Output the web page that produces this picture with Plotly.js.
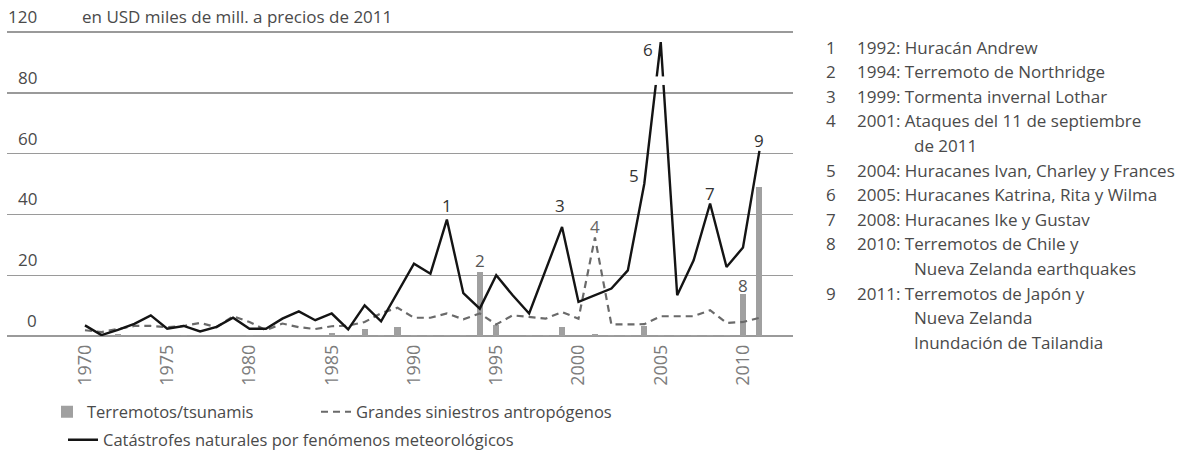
<!DOCTYPE html>
<html>
<head>
<meta charset="utf-8">
<script src="https://cdn.plot.ly/plotly-3.0.1.min.js"></script>
<style>html,body{margin:0;padding:0;background:#fff;}#chart{width:1203px;height:457px;}</style>
</head>
<body>
<div id="chart"></div>
<script>
// ---- data ----
const years = [1970,1971,1972,1973,1974,1975,1976,1977,1978,1979,
               1980,1981,1982,1983,1984,1985,1986,1987,1988,1989,
               1990,1991,1992,1993,1994,1995,1996,1997,1998,1999,
               2000,2001,2002,2003,2004,2005,2006,2007,2008,2009,2010,2011];
const quakes = [0,0,0.5,0,0,0,0.3,0,0,0,
                0.4,0,0,0,0,1.0,0.3,2.2,0.3,3.0,
                0.3,0.3,0.3,0.3,21.0,3.5,0,0.3,0.3,2.8,
                0,0.8,0.3,0.4,3.2,0.3,0.2,0.3,0.4,0.4,13.7,49.0];
const manmade = [1.9,1.3,2.3,3.3,3.3,2.9,3.3,4.3,2.9,6.5,
                 4.6,1.9,4.1,2.9,2.3,3.2,3.4,4.6,7.5,9.3,
                 6.0,6.0,7.4,5.5,7.4,3.8,6.8,6.3,5.7,7.9,
                 5.7,32.4,3.8,3.8,3.9,6.5,6.4,6.5,8.5,4.3,4.6,6.0];
const weather = [3.5,0.3,2.0,4.0,6.8,2.4,3.3,1.5,3.0,6.0,
                 2.4,2.4,5.7,8.1,5.2,7.4,2.2,10.1,4.8,14.5,
                 23.8,20.5,38.3,14.1,9.0,20.0,13.4,7.4,21.6,35.9,
                 11.2,13.4,15.6,21.6,50.1,96.7,13.4,24.9,43.6,22.7,29.1,60.9];
const seriesNames = ['Terremotos/tsunamis','Grandes siniestros antropógenos','Catástrofes naturales por fenómenos meteorológicos'];
const yTickVals = [0,20,40,60,80,100];
const yTickText = ['0','20','40','60','80','120'];
const xTickVals = [1970,1975,1980,1985,1990,1995,2000,2005,2010];
const yTitle = 'en USD miles de mill. a precios de 2011';
const eventNums = ['1','2','3','4','5','6','7','8','9'];
const eventYears = [1992,1994,1999,2001,2004,2005,2008,2010,2011];
const eventSeries = ['weather','quakes','weather','manmade','weather','weather','weather','quakes','weather'];
const listNums = ['1','2','3','4','','5','6','7','8','','9','',''];
const listText = ['1992: Huracán Andrew','1994: Terremoto de Northridge','1999: Tormenta invernal Lothar',
  '2001: Ataques del 11 de septiembre','de 2011','2004: Huracanes Ivan, Charley y Frances',
  '2005: Huracanes Katrina, Rita y Wilma','2008: Huracanes Ike y Gustav','2010: Terremotos de Chile y',
  'Nueva Zelanda earthquakes','2011: Terremotos de Japón y','Nueva Zelanda','Inundación de Tailandia'];
const listIsCont = [false,false,false,false,true,false,false,false,false,true,false,true,true];
const axisBreak = [82.6, 85.4];

// ---- styles / geometry ----
const W = 1203, H = 457;
const L = 7, R = 793, B = 336;
const PXU = 3.04;                 // pixels per unit on the value axis
const YMAX = 102;
const T = B - YMAX * PXU;
const PW = R - L, PH = B - T;
const FONT = '"Open Sans", "Liberation Sans", Arial, sans-serif';
const TXT = '#4a4a4a';
const px2x = px => (px - L) / PW;
const py2y = py => (B - py) / PH;
const seriesMap = {weather, manmade, quakes};
const eventShift = [[0,14],[0,12],[-2,21],[0,11],[-10,8],[-13,-7],[0,10],[0,9],[0,10]];
const eventColor = ['#333','#555','#333','#666','#333','#333','#333','#555','#333'];

const traces = [
  {type:'bar', x: years, y: quakes, name: seriesNames[0], width: 0.37,
   marker:{color:'#a0a0a0'}, legend:'legend', legendwidth: 224},
  {type:'scatter', mode:'lines', x: years, y: manmade, name: seriesNames[1],
   line:{color:'#6a6a6a', width:2.2, dash:'7px,5px'}, legend:'legend', legendwidth: 300},
  {type:'scatter', mode:'lines', x: years, y: weather, name: seriesNames[2],
   line:{color:'#141414', width:2.4}, legend:'legend2'}
];

const annotations = [];
yTickVals.forEach((v,i) => annotations.push({
  xref:'paper', yref:'y', x: px2x(39), y: v, xanchor:'right', yanchor:'bottom', yshift: 2,
  text: yTickText[i], showarrow:false, font:{family:FONT, size:17, color:TXT}
}));
annotations.push({xref:'paper', yref:'y', x: px2x(80), y: yTickVals[yTickVals.length-1],
  xanchor:'left', yanchor:'bottom', yshift:2, text: yTitle, showarrow:false,
  font:{family:FONT, size:17, color:TXT}});
eventNums.forEach((n,i) => {
  const yr = eventYears[i];
  const v = seriesMap[eventSeries[i]][years.indexOf(yr)];
  annotations.push({xref:'x', yref:'y', x: yr, y: v, text: n, showarrow:false,
    xanchor:'center', yanchor:'middle', xshift: eventShift[i][0], yshift: eventShift[i][1],
    font:{family:FONT, size:17, color:eventColor[i]}});
});
listText.forEach((t,i) => {
  const yc = 47 + 24.6 * i;
  if (listNums[i]) annotations.push({xref:'paper', yref:'paper', x: px2x(824), y: py2y(yc),
    xanchor:'left', yanchor:'middle', text: listNums[i], showarrow:false,
    font:{family:FONT, size:17, color:TXT}});
  annotations.push({xref:'paper', yref:'paper', x: px2x(listIsCont[i] ? 912 : 855), y: py2y(yc),
    xanchor:'left', yanchor:'middle', text: t, showarrow:false,
    font:{family:FONT, size:17, color:TXT}});
});

const layout = {
  width: W, height: H,
  margin: {l: L, r: W - R, t: T, b: H - B, autoexpand: false},
  paper_bgcolor:'#fff', plot_bgcolor:'#fff',
  showlegend: true,
  bargap: 0,
  xaxis: {range:[1965.26, 2013.04], tickvals: xTickVals, tickangle:-90,
    showgrid:false, zeroline:false, showline:false, ticks:'',
    tickfont:{family:FONT, size:18, color:'#7c7c7c'}, ticklabelstandoff: 4, fixedrange:true},
  yaxis: {range:[0, YMAX], tickvals: yTickVals, showticklabels:false, showgrid:true,
    gridcolor:'#9a9a9a', gridwidth:1.4, zeroline:true, zerolinecolor:'#9a9a9a', zerolinewidth:1.4,
    showline:false, ticks:'', fixedrange:true},
  legend: {orientation:'h', xref:'container', yref:'container', x: 47/W, y: 1 - 412/H,
    xanchor:'left', yanchor:'middle', itemwidth:30,
    font:{family:FONT, size:16.5, color:TXT}, bgcolor:'rgba(0,0,0,0)', traceorder:'normal'},
  legend2: {orientation:'h', xref:'container', yref:'container', x: 63/W, y: 1 - 440/H,
    xanchor:'left', yanchor:'middle', itemwidth:30,
    font:{family:FONT, size:16.5, color:TXT}, bgcolor:'rgba(0,0,0,0)'},
  shapes: [{type:'rect', xref:'x', yref:'y', x0: 2004.55, x1: 2005.45, y0: axisBreak[0], y1: axisBreak[1],
    fillcolor:'#fff', line:{width:0}, layer:'above'}],
  annotations
};

Plotly.newPlot('chart', traces, layout, {displayModeBar:false, staticPlot:true});
</script>
</body>
</html>
